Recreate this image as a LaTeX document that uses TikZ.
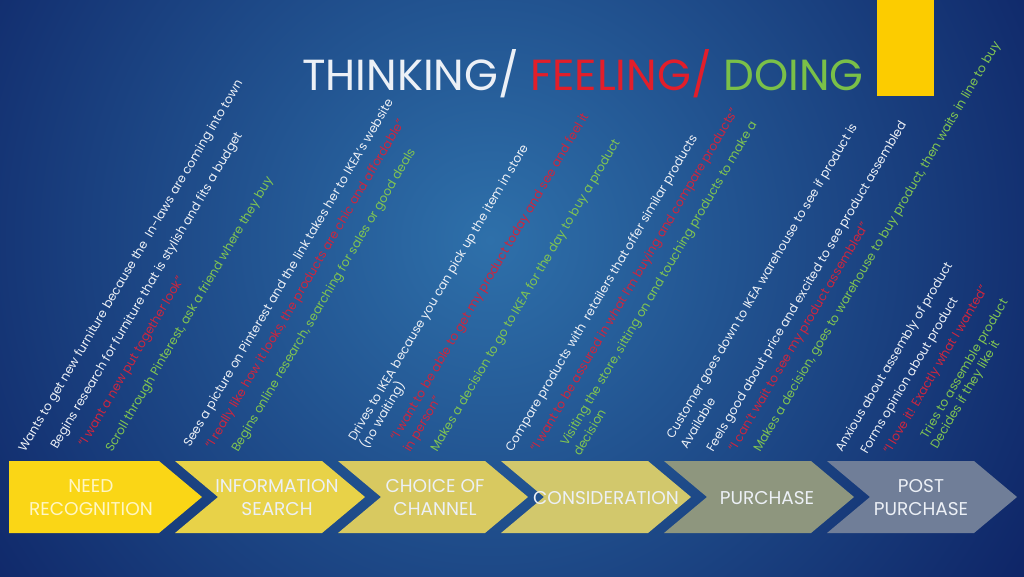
\documentclass[tikz,border=0pt]{standalone}
\usepackage{fontspec}
\setmainfont{Poppins}

\definecolor{fondclair}{RGB}{46,112,170}
\definecolor{fondsombre}{RGB}{14,36,102}
\definecolor{blanc}{RGB}{236,240,246}
\definecolor{rouge}{RGB}{205,38,62}
\definecolor{vert}{RGB}{128,196,82}
\definecolor{rougeT}{RGB}{226,30,42}
\definecolor{vertT}{RGB}{122,192,72}
\definecolor{jaune}{RGB}{252,204,0}
\definecolor{chevA}{RGB}{250,214,22}
\definecolor{chevB}{RGB}{232,210,72}
\definecolor{chevC}{RGB}{216,201,96}
\definecolor{chevD}{RGB}{210,200,108}
\definecolor{chevE}{RGB}{142,150,126}
\definecolor{chevF}{RGB}{112,126,152}
\definecolor{creme}{RGB}{255,246,196}

\begin{document}
\begin{tikzpicture}[x=1pt,y=-1pt,
    ligne/.style={anchor=base west, rotate=59.5, inner sep=0pt, font=\fontsize{12.3}{14}\selectfont},
    pense/.style={ligne, text=blanc},
    ressent/.style={ligne, text=rouge},
    agit/.style={ligne, text=vert},
    etape/.style={align=center, text=blanc, inner sep=0pt, font=\fontsize{18.5}{23}\selectfont}]
    \useasboundingbox (0,0) rectangle (1024,576);

    % Fond
    \begin{scope}
        \clip (0,0) rectangle (1024,576);
        \fill[fondsombre] (0,0) rectangle (1024,576);
        \fill[inner color=fondclair, outer color=fondsombre] (490,240) circle (640);
    \end{scope}

    % Titre et rectangle jaune
    \fill[jaune] (877,0) rectangle (934,96);
    \node[anchor=base west, inner sep=0pt, font=\fontsize{43.5}{50}\selectfont] (titre) at (302,90)
        {\color{blanc}THINKING/ \color{rougeT}FEELING/ \color{vertT}DOING};

    % Chevrons
    \fill[chevA] (9,461) -- (159,461) -- (202,497) -- (159,533) -- (9,533) -- cycle;
    \foreach \g/\c in {175/chevB, 338/chevC, 501/chevD, 664/chevE, 827/chevF}
        \fill[\c] (\g,461) -- ++(147,0) -- ++(43,36) -- ++(-43,36) -- ++(-147,0) -- ++(43,-36) -- cycle;

    \node[etape, text=creme] (nr) at (91,498) {NEED\\RECOGNITION};
    \node[etape] (is) at (277,498) {INFORMATION\\SEARCH};
    \node[etape] (cc) at (435,498) {CHOICE OF\\CHANNEL};
    \node[etape] (co) at (606,498) {CONSIDERATION};
    \node[etape] (pu) at (767,498) {PURCHASE};
    \node[etape] (pp) at (921,498) {POST\\PURCHASE};

    % Besoin
    \node[pense] (w1) at (25,453) {Wants to get new furniture because the\ \ In-laws are coming into town};
    \node[pense] (w2) at (57,450) {Begins research for furniture that is stylish and fits a budget};
    \node[ressent] (r1) at (85,448) {“I want a new put together look”};
    \node[agit] (g1) at (112,453) {Scroll through Pinterest, ask a friend where they buy};

    % Recherche
    \node[pense] (w3) at (190,448) {Sees a picture on Pinterest and the link takes her to IKEA’s website};
    \node[ressent] (r2) at (212,450) {“I really like how it looks, the products are chic and affordable”};
    \node[agit] (g2) at (238,453) {Begins online research, searching for sales or good deals};

    % Canal
    \node[pense] (w4) at (355,442) {Drives to IKEA because you can pick up the item in store};
    \node[pense] (w4b) at (367,450) {(no waiting)};
    \node[ressent] (r3) at (397,442) {“I want to be able to get my product today and see and feel it};
    \node[ressent] (r3b) at (410,453) {in person”};
    \node[agit] (g3) at (437,453) {Makes a decision to go to IKEA for the day to buy a product};

    % Comparaison
    \node[pense] (w5) at (512,453) {Compare products with\ \ retailers that offer similar products};
    \node[ressent] (r4) at (537,453) {“I want to be assured in what I’m buying and compare products”};
    \node[agit] (g4) at (567,447) {Visiting the store, sitting on and touching products to make a};
    \node[agit] (g4b) at (580,457) {decision};

    % Achat
    \node[pense] (w6) at (673,440) {Customer goes down to IKEA warehouse to see if product is};
    \node[pense] (w6b) at (687,450) {Available};
    \node[pense] (w7) at (713,453) {Feels good about price and excited to see product assembled};
    \node[ressent] (r5) at (735,453) {“I can’t wait to see my product assembled”};
    \node[agit] (g5) at (760,453) {Makes a decision, goes to warehouse to buy product, then waits in line to buy};

    % Apres achat
    \node[pense] (w8) at (842,453) {Anxious about assembly of product};
    \node[pense] (w9) at (867,455) {Forms opinion about product};
    \node[ressent] (r6) at (890,455) {“I love it! Exactly what I wanted”};
    \node[agit] (g6) at (927,440) {Tries to assemble product};
    \node[agit] (g6b) at (937,450) {Decides if they like it};
\end{tikzpicture}
\end{document}
